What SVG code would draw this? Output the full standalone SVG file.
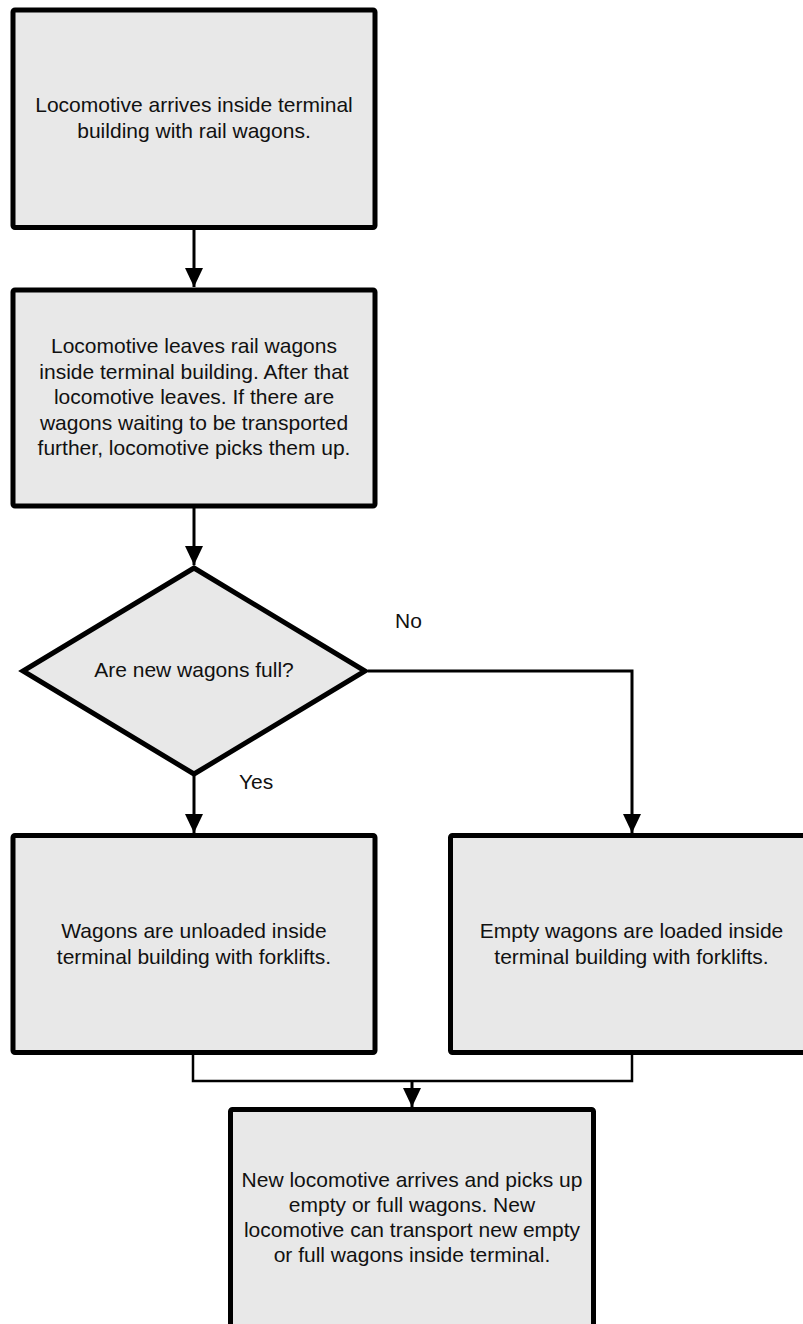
<svg xmlns="http://www.w3.org/2000/svg" width="803" height="1324" viewBox="0 0 803 1324">
<style>
.box{fill:#e8e8e8;stroke:#000;stroke-width:5;stroke-linejoin:miter}
.t{font-family:"Liberation Sans",Arial,sans-serif;font-size:21px;fill:#111;text-anchor:middle}
.lbl{font-family:"Liberation Sans",Arial,sans-serif;font-size:21px;fill:#111}
.c{fill:none;stroke:#000;stroke-width:3}
.j{fill:none;stroke:#000;stroke-width:2.5}
</style>
<defs>
<marker id="ah" markerUnits="userSpaceOnUse" markerWidth="20" markerHeight="18" refX="19" refY="9" orient="auto" viewBox="0 0 20 18">
<path d="M0,0 L19,9 L0,18 Z" fill="#000"/>
</marker>
</defs>
<rect width="803" height="1324" fill="#fff"/>
<g id="connectors">
<path class="c" d="M194,230 V287" marker-end="url(#ah)"/>
<path class="c" d="M194,508 V565" marker-end="url(#ah)"/>
<path class="c" d="M194,776 V833" marker-end="url(#ah)"/>
<path class="c" d="M368,671 H632 V833" marker-end="url(#ah)"/>
<path class="j" d="M193,1054 V1081 H632 V1054"/>
<path class="c" d="M412,1081 V1107" marker-end="url(#ah)"/>
</g>
<g id="n1">
<rect class="box" x="13" y="10" width="362" height="217.5" rx="2"/>
<text class="t" x="194" y="112">Locomotive arrives inside terminal</text>
<text class="t" x="194" y="137.5">building with rail wagons.</text>
</g>
<g id="n2">
<rect class="box" x="13" y="290" width="362" height="216" rx="2"/>
<text class="t" x="194" y="353">Locomotive leaves rail wagons</text>
<text class="t" x="194" y="378.5">inside terminal building. After that</text>
<text class="t" x="194" y="404">locomotive leaves. If there are</text>
<text class="t" x="194" y="429.5">wagons waiting to be transported</text>
<text class="t" x="194" y="455">further, locomotive picks them up.</text>
</g>
<g id="n3">
<polygon class="box" points="194,568 365,671 194,774 23,671"/>
<text class="t" x="194" y="677">Are new wagons full?</text>
</g>
<g id="n4">
<rect class="box" x="13" y="835.5" width="362" height="217" rx="2"/>
<text class="t" x="194" y="938">Wagons are unloaded inside</text>
<text class="t" x="194" y="963.5">terminal building with forklifts.</text>
</g>
<g id="n5">
<rect class="box" x="450.5" y="835.5" width="362" height="217" rx="2"/>
<text class="t" x="631.5" y="938">Empty wagons are loaded inside</text>
<text class="t" x="631.5" y="963.5">terminal building with forklifts.</text>
</g>
<g id="n6">
<rect class="box" x="230.5" y="1109.5" width="363" height="218" rx="2"/>
<text class="t" x="412" y="1187">New locomotive arrives and picks up</text>
<text class="t" x="412" y="1212">empty or full wagons. New</text>
<text class="t" x="412" y="1237">locomotive can transport new empty</text>
<text class="t" x="412" y="1262">or full wagons inside terminal.</text>
</g>
<g id="labels">
<text class="lbl" x="395" y="628">No</text>
<text class="lbl" x="239" y="789">Yes</text>
</g>
</svg>
